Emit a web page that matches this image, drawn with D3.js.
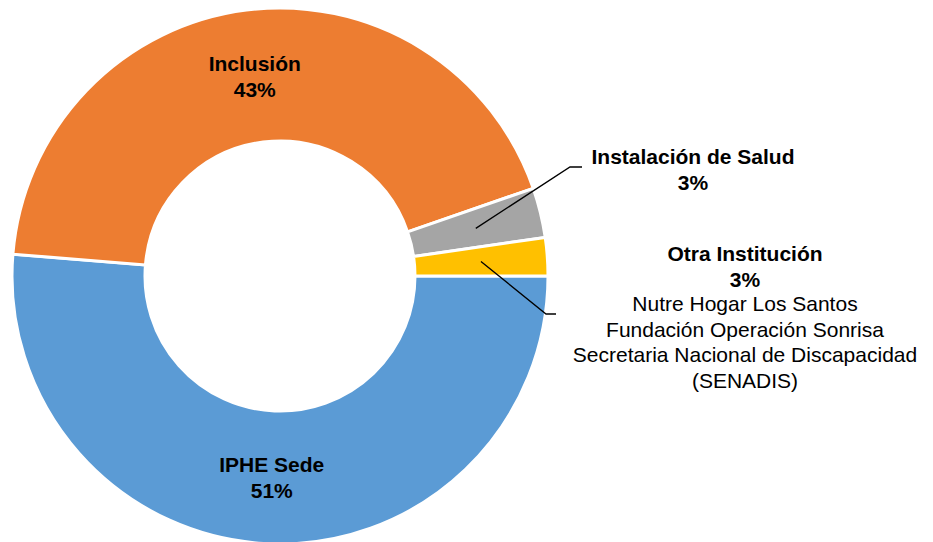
<!DOCTYPE html>
<html>
<head>
<meta charset="utf-8">
<script src="https://cdn.jsdelivr.net/npm/d3@7"></script>
<style>
  html, body { margin: 0; padding: 0; background: #fff; }
  svg { display: block; font-family: 'Liberation Sans', Arial, sans-serif; }
</style>
</head>
<body>
<div id="chart"></div>
<script>
(function () {
  'use strict';

  // Slices in drawing order, clockwise from 3 o'clock
  const CATEGORIES = ['IPHE Sede', 'Inclusión', 'Instalación de Salud', 'Otra Institución'];
  // shares (%), and the rounded labels printed on the chart
  const VALUES = [51.3, 43.4, 3.0, 2.3];
  const PCT_LABELS = ['51%', '43%', '3%', '3%'];
  const COLORS = ['#5B9BD5', '#ED7D31', '#A5A5A5', '#FFC000'];
  // extra (non-bold) lines under the "Otra Institución" label
  const OTRA_DETAIL = [
    'Nutre Hogar Los Santos',
    'Fundación Operación Sonrisa',
    'Secretaria Nacional de Discapacidad',
    '(SENADIS)'
  ];

  const W = 933, H = 542;
  const cx = 280, cy = 276;
  const outerR = 268, innerR = 135;
  const lineH = 25.5;

  const svg = d3.select('#chart').append('svg').attr('width', W).attr('height', H);
  const g = svg.append('g').attr('transform', `translate(${cx},${cy})`);

  const pie = d3.pie().sort(null).value(d => d.v)
    .startAngle(Math.PI / 2).endAngle(Math.PI / 2 + 2 * Math.PI);
  const arc = d3.arc().innerRadius(innerR).outerRadius(outerR);
  const data = pie(CATEGORIES.map((c, i) => ({ c, v: VALUES[i], lbl: PCT_LABELS[i], col: COLORS[i] })));

  g.selectAll('path.slice').data(data).enter().append('path')
    .attr('class', 'slice')
    .attr('d', arc)
    .attr('fill', d => d.data.col)
    .attr('stroke', '#fff')
    .attr('stroke-width', 3)
    .attr('stroke-linejoin', 'miter');

  // inside labels for the two big slices
  data.slice(0, 2).forEach(d => {
    const [x, y] = arc.centroid(d);
    const t = g.append('text').attr('text-anchor', 'middle')
      .style('font-size', '21px').style('font-weight', 'bold').style('fill', '#000');
    t.append('tspan').attr('x', x).attr('y', y - 5).text(d.data.c);
    t.append('tspan').attr('x', x).attr('y', y - 5 + lineH).text(d.data.lbl);
  });

  // callout labels for the small slices (leader bend + label anchor in page coords)
  const CALLOUTS = [
    { bend: [570, 167], end: [582, 167], tx: 693, ty: 164 },
    { bend: [546, 314], end: [556, 314], tx: 745, ty: 261 }
  ];
  data.slice(2).forEach((d, i) => {
    const co = CALLOUTS[i];
    const [x, y] = arc.centroid(d);
    svg.append('path')
      .attr('d', d3.line()([[cx + x, cy + y], co.bend, co.end]))
      .attr('fill', 'none').attr('stroke', '#000').attr('stroke-width', 1.3);
    const t = svg.append('text').attr('text-anchor', 'middle')
      .style('font-size', '21px').style('fill', '#000');
    t.append('tspan').attr('x', co.tx).attr('y', co.ty).style('font-weight', 'bold').text(d.data.c);
    t.append('tspan').attr('x', co.tx).attr('y', co.ty + lineH).style('font-weight', 'bold').text(d.data.lbl);
    if (d.data.c === 'Otra Institución') {
      OTRA_DETAIL.forEach((s, k) => {
        t.append('tspan').attr('x', co.tx).attr('y', co.ty + lineH * (k + 2) - 1).text(s);
      });
    }
  });
})();
</script>
</body>
</html>
